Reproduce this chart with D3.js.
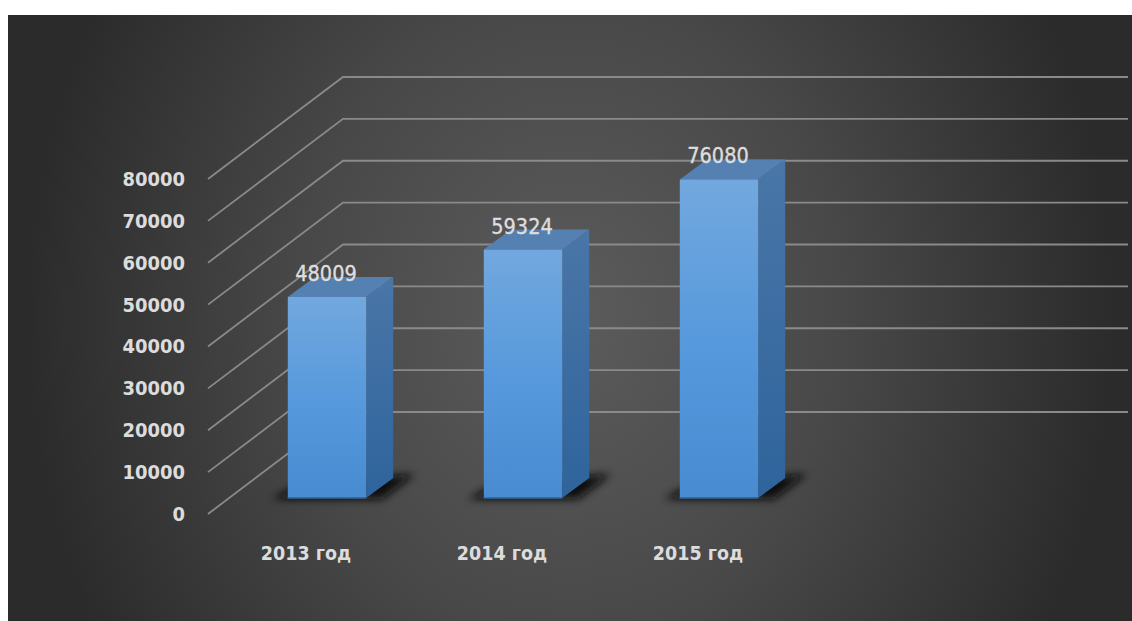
<!DOCTYPE html>
<html lang="ru">
<head>
<meta charset="utf-8">
<script src="https://cdn.jsdelivr.net/npm/d3@7"></script>
<style>
  html, body { margin: 0; padding: 0; background: #fff; }
  svg { display: block; }
  text { font-family: "DejaVu Sans", sans-serif; font-stretch: condensed; }
</style>
</head>
<body>
<svg id="chart" width="1132" height="621"></svg>
<script>
// Yearly totals
const years = ["2013 год", "2014 год", "2015 год"];
const totals = [48009, 59324, 76080];
const axisTicks = [0, 10000, 20000, 30000, 40000, 50000, 60000, 70000, 80000];

const W = 1132, H = 621;
const panel = { x: 8, y: 15 };
const svg = d3.select("#chart");
const defs = svg.append("defs");

// Panel backdrop: dark radial glow centred on the plot
const glow = defs.append("radialGradient").attr("id", "glow")
  .attr("gradientUnits", "userSpaceOnUse")
  .attr("cx", 0).attr("cy", 0).attr("r", 1)
  .attr("gradientTransform", "translate(570 318) scale(545 640)");
[[0, "#5c5c5c"], [0.5, "#484848"], [1, "#2b2b2b"]].forEach(([o, c]) =>
  glow.append("stop").attr("offset", o).attr("stop-color", c));

function barGradient(id, stops) {
  const g = defs.append("linearGradient").attr("id", id)
    .attr("x1", 0).attr("y1", 0).attr("x2", 0).attr("y2", 1);
  stops.forEach(([o, c]) => g.append("stop").attr("offset", o).attr("stop-color", c));
}
barGradient("front", [[0, "#72a8de"], [0.55, "#5598dc"], [1, "#488bd0"]]);
barGradient("side", [[0, "#4a76a8"], [1, "#2e649c"]]);

defs.append("filter").attr("id", "soft")
  .attr("x", "-30%").attr("y", "-100%").attr("width", "160%").attr("height", "300%")
  .append("feGaussianBlur").attr("stdDeviation", 4);

svg.append("rect")
  .attr("x", panel.x).attr("y", panel.y)
  .attr("width", W - panel.x).attr("height", H - panel.y)
  .attr("fill", "url(#glow)");

// Projection of the 3D box: the wall is offset from the front plane
const wallShift = { x: 135, y: -102 };
const barShift = { x: 27, y: -20 };
const leftX = 208, rightX = 1128;

// Scale for the front edge of the axis
const yWall = d3.scaleLinear().domain([0, 80000]).range([514, 179]);
// Scale for the front faces of the bars
const yBar = d3.scaleLinear().domain([0, 80000]).range([498, 163]);
const xBar = d3.scaleBand().domain(years).range([229, 817]).paddingInner(0.6).paddingOuter(0.3);

// Gridlines: up the side wall, then along the back wall
const gridLine = d3.line();
svg.append("g").selectAll("path").data(axisTicks).join("path")
  .attr("d", t => gridLine([
    [leftX, yWall(t)],
    [leftX + wallShift.x, yWall(t) + wallShift.y],
    [rightX, yWall(t) + wallShift.y]
  ]))
  .attr("fill", "none")
  .attr("stroke", "#8a8a8a")
  .attr("stroke-width", 1.8);

// Value axis labels
const axis = d3.axisLeft(yWall).tickValues(axisTicks).tickSize(0).tickPadding(23)
  .tickFormat(d3.format("d"));
const axisG = svg.append("g").attr("transform", `translate(${leftX},0)`).call(axis);
axisG.select(".domain").remove();
axisG.selectAll("text")
  .attr("fill", "#dcdcdc")
  .attr("font-size", 20)
  .attr("font-weight", 700)
  .style("font-family", '"DejaVu Sans", sans-serif');

// Floor shadows beneath each bar
const shadowLine = d3.line();
svg.append("g").selectAll("path").data(years).join("path")
  .attr("d", d => {
    const l = xBar(d), r = l + xBar.bandwidth(), y0 = yBar(0);
    return shadowLine([
      [l - 16, y0 + 1], [l + 12, y0 - 14], [r + barShift.x + 22, y0 + barShift.y - 4],
      [r + 16, y0 + 1]
    ]) + "Z";
  })
  .attr("fill", "#0a0a0a")
  .attr("filter", "url(#soft)");

// Bars: side, top, then front face with a darker base edge
const bars = svg.append("g").selectAll("g").data(years.map((y, i) => ({ y, v: totals[i] }))).join("g");
const facePath = d3.line();
bars.append("path")
  .attr("d", d => {
    const r = xBar(d.y) + xBar.bandwidth();
    return facePath([
      [r, yBar(0)], [r + barShift.x, yBar(0) + barShift.y],
      [r + barShift.x, yBar(d.v) + barShift.y], [r, yBar(d.v)]
    ]) + "Z";
  })
  .attr("fill", "url(#side)");
bars.append("path")
  .attr("d", d => {
    const l = xBar(d.y), r = l + xBar.bandwidth(), t = yBar(d.v);
    return facePath([
      [l, t], [r, t], [r + barShift.x, t + barShift.y], [l + barShift.x, t + barShift.y]
    ]) + "Z";
  })
  .attr("fill", "#5480b2");
bars.append("rect")
  .attr("x", d => xBar(d.y))
  .attr("y", d => yBar(d.v))
  .attr("width", xBar.bandwidth())
  .attr("height", d => yBar(0) - yBar(d.v))
  .attr("fill", "url(#front)");
bars.append("line")
  .attr("x1", d => xBar(d.y))
  .attr("x2", d => xBar(d.y) + xBar.bandwidth())
  .attr("y1", yBar(0))
  .attr("y2", yBar(0))
  .attr("stroke", "#2f6296")
  .attr("stroke-width", 1.5);

// Value labels sitting on the bar tops
bars.append("text")
  .attr("x", d => xBar(d.y) + xBar.bandwidth() / 2 - 1)
  .attr("y", d => yBar(d.v) - 16)
  .attr("text-anchor", "middle")
  .attr("fill", "#dedede")
  .attr("stroke", "#dedede")
  .attr("stroke-width", 0.35)
  .attr("font-size", 21.5)
  .text(d => d.v);

// Category labels along the floor
svg.append("g").selectAll("text").data(years).join("text")
  .attr("x", d => xBar(d) + xBar.bandwidth() / 2 - 21)
  .attr("y", 560)
  .attr("text-anchor", "middle")
  .attr("fill", "#dcdcdc")
  .attr("font-size", 19.5)
  .attr("font-weight", 700)
  .text(d => d);
</script>
</body>
</html>
